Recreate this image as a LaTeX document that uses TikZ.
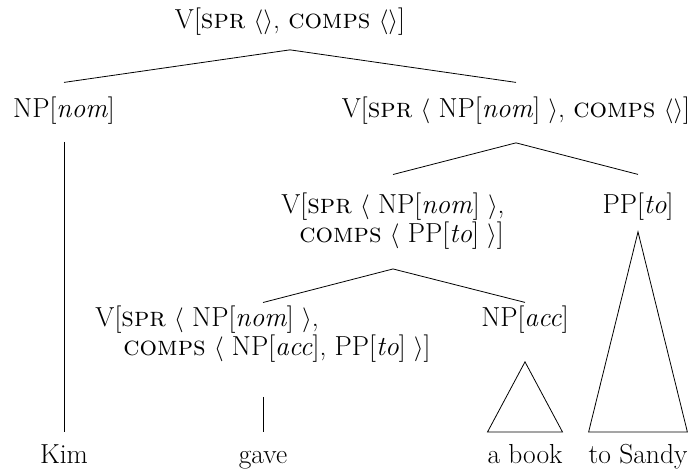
\documentclass[tikz,border=0pt]{standalone}
\usepackage{fontspec}
\usetikzlibrary{calc}
% angle brackets for list values
\newcommand{\avmL}{$\langle$}
\newcommand{\avmR}{$\rangle$}
\begin{document}
\begin{tikzpicture}[x=1pt,y=-1pt,
  lbl/.style={inner sep=0pt, outer sep=0pt, font=\fontsize{27.5}{29}\selectfont},
  leaf/.style={lbl, text height=18pt, text depth=6pt, anchor=base},
  branch/.style={line width=0.8pt},
]
\useasboundingbox (0,0) rectangle (691,475);

% phrase labels
\node[lbl, anchor=base] (s) at (290,28)
  {V[\textsc{spr} \avmL\avmR, \textsc{comps} \avmL\avmR]};
\node[lbl, anchor=base] (subj) at (64,117) {NP[\textit{nom}]};
\node[lbl, anchor=base] (vp) at (516,117)
  {V[\textsc{spr} \avmL\ NP[\textit{nom}] \avmR, \textsc{comps} \avmL\avmR]};
\node[lbl, anchor=north, align=left] (vbar) at (393,192.5)
  {V[\textsc{spr} \avmL\ NP[\textit{nom}] \avmR,\\\hspace{18pt}\textsc{comps} \avmL\ PP[\textit{to}] \avmR]};
\node[lbl, anchor=base] (pp) at (638,213) {PP[\textit{to}]};
\node[lbl, anchor=north, align=left] (v0) at (263,305.5)
  {V[\textsc{spr} \avmL\ NP[\textit{nom}] \avmR,\\\hspace{28pt}\textsc{comps} \avmL\ NP[\textit{acc}], PP[\textit{to}] \avmR]};
\node[lbl, anchor=base] (obj) at (525,326) {NP[\textit{acc}]};

% words
\node[leaf] (kim) at (64,463) {Kim};
\node[leaf] (gave) at (263,463) {gave};
\node[leaf] (book) at (525,463) {a book};
\node[leaf] (sandy) at (638,463) {to Sandy};

% branches
\draw[branch] ([yshift=-15pt]s.south) -- ([yshift=14pt]subj.north);
\draw[branch] ([yshift=-15pt]s.south) -- ([yshift=14pt]vp.north);
\draw[branch] ([yshift=-18pt]subj.south) -- ([yshift=13pt]kim.north);
\draw[branch] ([yshift=-19pt]vp.south) -- ([yshift=18pt]vbar.north);
\draw[branch] ([yshift=-19pt]vp.south) -- ([yshift=18pt]pp.north);
\draw[branch] ([yshift=-20pt]vbar.south) -- ([yshift=3pt]v0.north);
\draw[branch] ([yshift=-20pt]vbar.south) -- ([yshift=3pt]obj.north);
\draw[branch] ([yshift=-35pt]v0.south) -- ([yshift=13pt]gave.north);

% roofs over unanalysed phrases
\draw[branch] ([yshift=-29pt]obj.south) -- ([yshift=13pt]book.north west)
  -- ([yshift=13pt]book.north east) -- cycle;
\draw[branch] ([yshift=-12pt]pp.south) -- ([yshift=13pt]sandy.north west)
  -- ([yshift=13pt]sandy.north east) -- cycle;
\end{tikzpicture}
\end{document}
